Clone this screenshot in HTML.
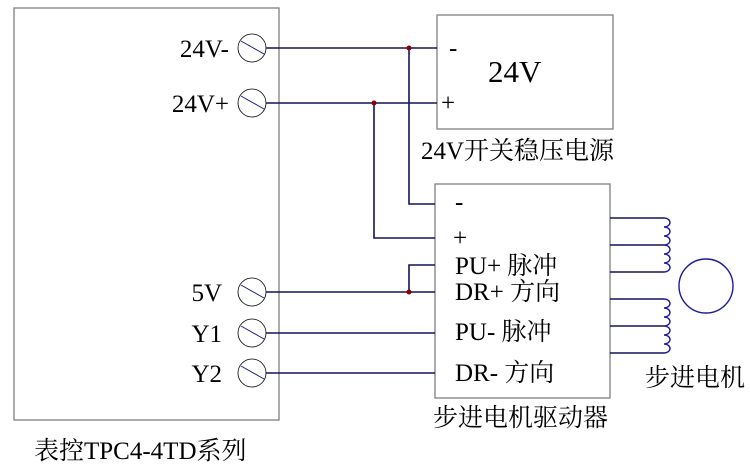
<!DOCTYPE html>
<html><head><meta charset="utf-8"><style>
html,body{margin:0;padding:0;background:#fff;}
svg{display:block;}
text{font-family:"Liberation Serif","Noto Serif CJK SC",serif;fill:#000;}
</style></head><body>
<svg width="750" height="467" viewBox="0 0 750 467" xmlns="http://www.w3.org/2000/svg">
<g fill="none" stroke="#808080" stroke-width="1.3">
<rect x="14" y="8" width="265" height="412"/>
<rect x="437" y="15" width="176" height="114"/>
<rect x="435" y="184" width="175" height="214"/>
</g>
<g fill="none" stroke="#000" stroke-width="0.8">
<circle cx="252" cy="48" r="14"/>
<circle cx="252" cy="103" r="14"/>
<circle cx="252" cy="292" r="14"/>
<circle cx="252" cy="333" r="14"/>
<circle cx="252" cy="373" r="14"/>
</g>
<g stroke="#1a1a8c" stroke-width="1">
<line x1="241" y1="41" x2="264" y2="54"/>
<line x1="241" y1="96" x2="264" y2="109"/>
<line x1="241" y1="285" x2="264" y2="298"/>
<line x1="241" y1="326" x2="264" y2="339"/>
<line x1="241" y1="366" x2="264" y2="379"/>
</g>
<g fill="none" stroke="#14145a" stroke-width="1.6">
<polyline points="266,48 437,48"/>
<polyline points="266,103 437,103"/>
<polyline points="409,48 409,204 435,204"/>
<polyline points="374,103 374,238 435,238"/>
<polyline points="266,292 435,292"/>
<polyline points="409,292 409,265 435,265"/>
<polyline points="266,333 435,333"/>
<polyline points="266,373 435,373"/>
<polyline points="610,218 664,218"/>
<polyline points="610,245 664,245"/>
<polyline points="610,272 664,272"/>
<polyline points="610,299 664,299"/>
<polyline points="610,326 664,326"/>
<polyline points="610,353 664,353"/>
</g>
<g fill="none" stroke="#1a1aa0" stroke-width="1.4">
<path d="M664,218 a6,4.5 0 0 1 0,9 a6,4.5 0 0 1 0,9 a6,4.5 0 0 1 0,9 M664,245 a6,4.5 0 0 1 0,9 a6,4.5 0 0 1 0,9 a6,4.5 0 0 1 0,9"/>
<path d="M664,299 a6,4.5 0 0 1 0,9 a6,4.5 0 0 1 0,9 a6,4.5 0 0 1 0,9 M664,326 a6,4.5 0 0 1 0,9 a6,4.5 0 0 1 0,9 a6,4.5 0 0 1 0,9"/>
<circle cx="706" cy="286" r="27"/>
</g>
<g fill="#8b0000">
<circle cx="409" cy="48" r="2.5"/>
<circle cx="374" cy="103" r="2.5"/>
<circle cx="409" cy="292" r="2.5"/>
</g>
<g font-size="25">
<text x="229" y="57" text-anchor="end">24V-</text>
<text x="229" y="112" text-anchor="end">24V+</text>
<text x="222" y="301" text-anchor="end">5V</text>
<text x="222" y="342" text-anchor="end">Y1</text>
<text x="222" y="382" text-anchor="end">Y2</text>
<text x="449" y="56">-</text>
<text x="441" y="111">+</text>
<text x="488" y="82" font-size="31">24V</text>
<text x="421" y="159">24V开关稳压电源</text>
<text x="455" y="210">-</text>
<text x="453" y="246">+</text>
<text x="455" y="274">PU+ 脉冲</text>
<text x="455" y="300">DR+ 方向</text>
<text x="455" y="340">PU- 脉冲</text>
<text x="455" y="381">DR- 方向</text>
<text x="645" y="386">步进电机</text>
<text x="433" y="426">步进电机驱动器</text>
<text x="34" y="459">表控TPC4-4TD系列</text>
</g>
</svg>
</body></html>
